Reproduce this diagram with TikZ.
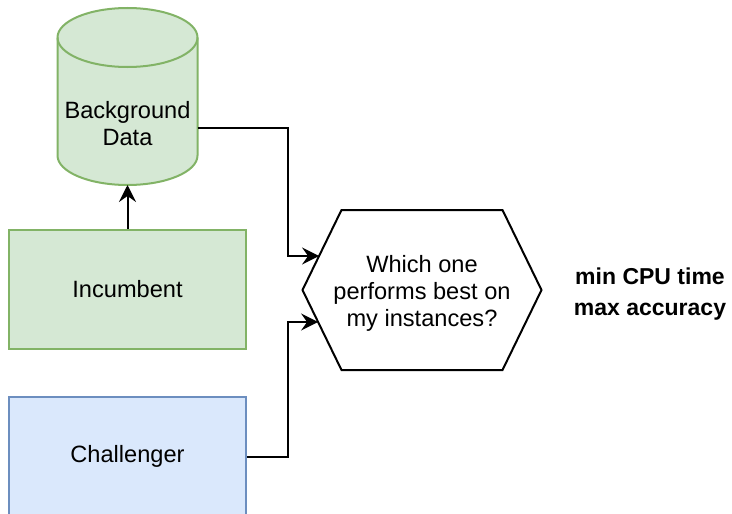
\documentclass[tikz,border=0pt]{standalone}
\usepackage{fontspec}
\setmainfont{Liberation Sans}
\usepackage{xcolor}
\usepackage{tikz}
\usetikzlibrary{arrows.meta,positioning}
\definecolor{greenfill}{HTML}{D5E8D4}
\definecolor{greenline}{HTML}{82B366}
\definecolor{bluefill}{HTML}{DAE8FC}
\definecolor{blueline}{HTML}{6C8EBF}
\tikzset{
  algobox/.style={rectangle, draw=greenline, fill=greenfill, line width=2pt, align=center, minimum width=237pt, minimum height=119pt, font=\fontsize{23.6}{27}\selectfont},
  challbox/.style={algobox, draw=blueline, fill=bluefill},
  dbline/.style={draw=greenline, fill=greenfill, line width=2pt},
  dbtext/.style={align=center, minimum width=140pt, inner sep=0pt, outer sep=0pt, font=\fontsize{23.6}{27}\selectfont},
  questtext/.style={align=center, minimum width=239pt, minimum height=160pt, inner sep=0pt, font=\fontsize{23.6}{27}\selectfont},
  hexline/.style={draw=black, line width=2pt, line join=miter},
  flowarrow/.style={-{Stealth[length=17pt,width=17pt,inset=6pt]}, line width=2pt}
}
\begin{document}
\begin{tikzpicture}[x=1pt, y=-1pt, node distance=44pt and 40pt]
\useasboundingbox (0,0) rectangle (732,514);
% data cylinder
\draw[dbline] (57.5,37.5) -- (57.5,155.5) arc[start angle=180, end angle=360, x radius=70pt, y radius=29.5pt]
  -- (197.5,37.5) arc[start angle=0, end angle=180, x radius=70pt, y radius=29.5pt] -- cycle;
\draw[dbline, fill=none] (57.5,37.5) arc[start angle=180, end angle=360, x radius=70pt, y radius=29.5pt];
\coordinate (bgbase) at (127.5,185);

\node[algobox] (incumbent) at (127.5,289.5) {Incumbent};
\node[dbtext] (bgdata) at (127.5,124) {Background\\Data};
\node[challbox, below=46pt of incumbent] (challenger) {Challenger};
\node[questtext] (which) at (422,293) {Which one\\performs best on\\my instances?};
\node[align=center, font=\fontsize{23}{31}\selectfont\bfseries] (goal) at (650,294) {min CPU time\\max accuracy};

% hexagon round the question
\draw[hexline] (302.5,290) -- ++(39,-80) -- ++(161,0) -- ++(39,80) -- ++(-39,80) -- ++(-161,0) -- cycle;
\path (302.5,290) -- ++(39,-80) coordinate[pos=0.425] (whichin);
\path (302.5,290) -- ++(39,80) coordinate[pos=0.4] (whichin2);

\draw[flowarrow] (incumbent) -- (bgbase);
\draw[flowarrow] ([yshift=-4pt]bgdata.east) -- ++(90,0) |- (whichin);
\draw[flowarrow] (challenger.east) -- ++(41,0) |- (whichin2);
\end{tikzpicture}
\end{document}
